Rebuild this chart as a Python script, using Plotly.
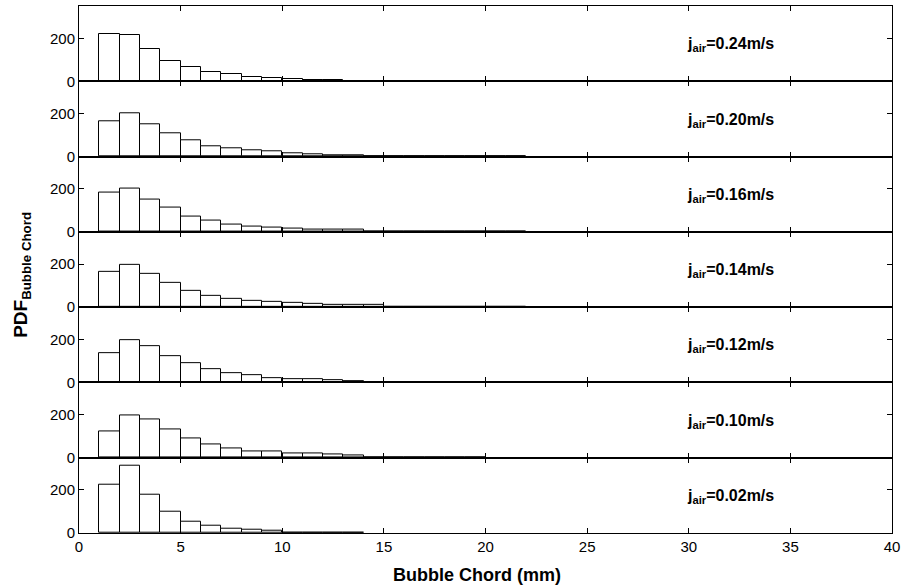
import plotly.graph_objects as go
from plotly.subplots import make_subplots

# Bin left edges (mm), 1 mm wide bins
bin_edges = [1, 2, 3, 4, 5, 6, 7, 8, 9, 10, 11, 12, 13, 14, 15, 16, 17, 18, 19, 20, 21]

# PDF of bubble chord for each superficial air velocity (top to bottom)
labels = ["0.24", "0.20", "0.16", "0.14", "0.12", "0.10", "0.02"]
pdf_024 = [220, 214, 148, 95, 67, 43, 34, 21, 15, 12, 8, 8, 2, 2, 1, 1, 1, 1, 1, 1, 1]
pdf_020 = [165, 201, 151, 109, 74, 49, 37, 28, 23, 17, 11, 8, 6, 2, 2, 1, 1, 1, 1, 1, 1]
pdf_016 = [183, 200, 152, 111, 71, 52, 33, 25, 21, 14, 11, 10, 10, 2, 2, 1, 1, 1, 1, 1, 1]
pdf_014 = [166, 195, 154, 112, 77, 52, 38, 29, 23, 18, 17, 12, 11, 11, 2, 2, 1, 1, 1, 1, 1]
pdf_012 = [134, 195, 170, 120, 91, 61, 43, 35, 21, 14, 13, 10, 8, 2, 2, 1, 1, 1, 1, 1, 0]
pdf_010 = [122, 198, 180, 131, 91, 61, 44, 31, 27, 20, 19, 13, 11, 2, 2, 1, 1, 1, 1, 0, 0]
pdf_002 = [225, 312, 177, 97, 51, 35, 20, 17, 12, 3, 2, 2, 1, 0, 0, 0, 0, 0, 0, 0, 0]
series = [pdf_024, pdf_020, pdf_016, pdf_014, pdf_012, pdf_010, pdf_002]

x_ticks = [0, 5, 10, 15, 20, 25, 30, 35, 40]
y_ticks = [0, 200]

FONT = "Liberation Sans, Arial, sans-serif"
n = len(series)

fig = make_subplots(rows=n, cols=1, shared_xaxes=True, vertical_spacing=0)

centers = [e + 0.5 for e in bin_edges]
for i, vals in enumerate(series):
    # empty bins are left undrawn so no outline appears on the baseline
    heights = [v if v > 0 else None for v in vals]
    fig.add_trace(
        go.Bar(
            x=centers, y=heights, width=1,
            marker=dict(color="white", line=dict(color="black", width=1)),
            showlegend=False,
        ),
        row=i + 1, col=1,
    )

# Equal-height panels stacked without gaps
for i in range(n):
    top = 1 - i / n
    bottom = 1 - (i + 1) / n
    ax = "yaxis" if i == 0 else f"yaxis{i + 1}"
    fig.layout[ax].domain = [bottom, top]

fig.update_xaxes(
    range=[0, 40], tickvals=x_ticks, ticks="inside", ticklen=5, tickcolor="black",
    showline=True, linecolor="black", linewidth=1, mirror="ticks",
    showgrid=False, zeroline=False,
    tickfont=dict(family=FONT, size=15, color="black"),
)
fig.update_yaxes(
    range=[0, 350], tickvals=y_ticks, ticks="inside", ticklen=5, tickcolor="black",
    showline=True, linecolor="black", linewidth=1, mirror="ticks",
    showgrid=False, zeroline=False,
    tickfont=dict(family=FONT, size=15, color="black"),
)

# Velocity labels inside each panel
for i, lab in enumerate(labels):
    yref = "y" if i == 0 else f"y{i + 1}"
    fig.add_annotation(
        x=29.8, y=170, xref="x" if i == 0 else f"x{i + 1}", yref=yref,
        text=f"<b>j<sub>air</sub>=%sm/s</b>" % lab,
        showarrow=False, xanchor="left", yanchor="middle",
        font=dict(family=FONT, size=16, color="black"),
    )

# Axis titles
fig.add_annotation(
    x=0.49, y=-0.08, xref="paper", yref="paper",
    text="<b>Bubble Chord (mm)</b>", showarrow=False,
    xanchor="center", yanchor="middle",
    font=dict(family=FONT, size=18, color="black"),
)
fig.add_annotation(
    x=-0.07, y=0.49, xref="paper", yref="paper",
    text="<b>PDF<sub>Bubble Chord</sub></b>", showarrow=False, textangle=-90,
    xanchor="center", yanchor="middle",
    font=dict(family=FONT, size=19, color="black"),
)

fig.update_layout(
    width=907, height=588,
    margin=dict(l=79, r=15, t=6, b=55),
    paper_bgcolor="white", plot_bgcolor="white",
    bargap=0,
)

fig.write_html("out.html")
